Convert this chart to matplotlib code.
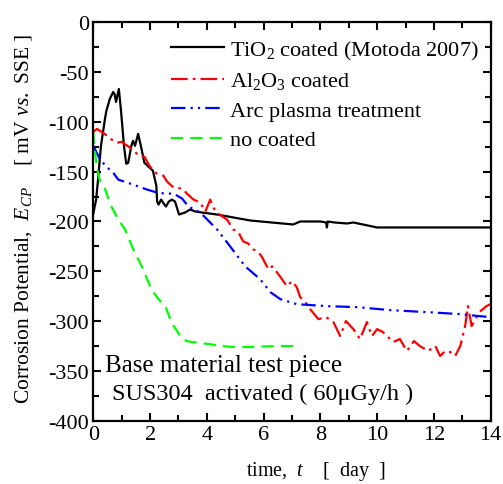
import numpy as np
import matplotlib
matplotlib.use("Agg")
import matplotlib.pyplot as plt
from matplotlib.ticker import MultipleLocator

plt.rcParams['font.family'] = ['Liberation Serif', 'DejaVu Serif']
plt.rcParams['mathtext.fontset'] = 'custom'
plt.rcParams['mathtext.rm'] = 'Liberation Serif'
plt.rcParams['mathtext.it'] = 'Liberation Serif:italic'
plt.rcParams['axes.unicode_minus'] = False

# TiO2 coated (Motoda 2007)
t_tio2 = [0, 0.1, 0.17, 0.27, 0.41, 0.46, 0.58, 0.7, 0.75, 0.8, 0.9, 0.98, 1.08, 1.16, 1.23,
          1.34, 1.4, 1.47, 1.58, 1.69, 1.8, 2.1, 2.22, 2.25, 2.3, 2.39, 2.48, 2.56, 2.66, 2.77,
          2.88, 3.02, 3.23, 3.41, 3.6, 3.83, 4.36, 5.53, 7.04, 7.29, 8.0, 8.2, 8.23, 8.26, 8.5,
          8.94, 9.16, 9.5, 10.0, 14.0]
e_tio2 = [-192, -178, -157, -124, -97, -89, -77, -70, -72, -80, -67, -90, -124, -142, -141,
          -124, -119, -124, -112, -126, -141, -149, -164, -180, -183, -178, -182, -185, -180, -178,
          -180, -193, -191, -188, -190, -191, -193, -199, -203, -200, -200, -201, -206, -200, -201,
          -202, -201, -203, -206, -206]

# Al2O3 coated
t_al2o3 = [0, 0.13, 0.4, 0.6, 0.84, 1.0, 1.2, 1.4, 1.6, 1.8, 2.0, 2.24, 2.47, 2.6, 2.83, 3.13,
           3.3, 3.53, 3.77, 3.95, 4.12, 4.2, 4.36, 4.55, 4.71, 4.93, 5.1, 5.28, 5.45, 5.64, 5.8,
           5.95, 6.17, 6.3, 6.47, 6.65, 6.82, 7.0, 7.17, 7.29, 7.45, 7.64, 7.93, 8.2, 8.46, 8.7,
           8.9, 9.16, 9.4, 9.64, 9.82, 10.0, 10.2, 10.57, 10.8, 11.05, 11.3, 11.5, 11.8, 12.05,
           12.22, 12.4, 12.57, 12.75, 12.93, 13.1, 13.2, 13.33, 13.6, 13.85, 14.0]
e_al2o3 = [-110, -107, -112, -117, -121, -120, -124, -128, -134, -135, -145, -152, -154, -160,
           -166, -167, -172, -178, -181, -190, -178, -185, -191, -195, -198, -208, -210, -220,
           -222, -228, -230, -236, -248, -245, -251, -258, -265, -260, -266, -276, -280, -288,
           -298, -296, -301, -315, -300, -308, -318, -301, -315, -308, -311, -321, -318, -330,
           -320, -325, -330, -325, -335, -330, -331, -335, -325, -305, -285, -305, -291, -285, -283]

# Arc plasma treatment
t_arc = [0, 0.24, 0.5, 0.7, 0.88, 1.41, 1.9, 2.25, 2.54, 2.83, 3.13, 3.35, 3.77, 4.36, 4.82,
         5.35, 5.88, 6.24, 6.59, 7.17, 8.23, 9.3, 10.46, 11.76, 12.93, 13.6, 14.0]
e_arc = [-124, -138, -146, -151, -158, -163, -168, -171, -172, -172, -177, -185, -191, -208, -225,
         -245, -258, -271, -278, -283, -285, -286, -289, -291, -293, -295, -296]

# no coated
t_none = [0, 0.05, 0.13, 0.24, 0.41, 0.62, 0.88, 1.12, 1.41, 1.76, 2.04, 2.3, 2.54, 2.75, 2.95,
          3.13, 3.3, 3.49, 4.05, 4.5, 4.93, 5.53, 6.5, 7.29]
e_none = [-110, -127, -147, -160, -167, -184, -198, -208, -228, -248, -268, -278, -285, -301, -310,
          -318, -320, -321, -323, -325, -326, -326, -325, -325]

fig = plt.figure(figsize=(5.03, 4.85), dpi=100)
ax = fig.add_axes([0.1855, 0.1305, 0.79, 0.8215])

ax.plot(t_tio2, e_tio2, color='black', lw=1.6, label='TiO$_2$ coated (Motoda 2007)')
ax.plot(t_al2o3, e_al2o3, color='#ff0000', lw=1.6, dashes=(7.5, 2.3, 1.2, 2.3),
        label='Al$_2$O$_3$ coated')
ax.plot(t_arc, e_arc, color='#0000ff', lw=1.6, dashes=(6.5, 2.3, 1, 2.3, 1, 2.3),
        label='Arc plasma treatment')
ax.plot(t_none, e_none, color='#00ff00', lw=1.6, dashes=(5.5, 3.2),
        label='no coated')

ax.set_xlim(0, 14)
ax.set_ylim(-400, 0)
ax.xaxis.set_major_locator(MultipleLocator(2))
ax.xaxis.set_minor_locator(MultipleLocator(1))
ax.yaxis.set_major_locator(MultipleLocator(50))
ax.yaxis.set_minor_locator(MultipleLocator(25))
ax.tick_params(which='both', direction='in', top=True, right=True, width=1.5, labelsize=16)
ax.tick_params(which='major', length=6, pad=3)
ax.tick_params(which='minor', length=4)
for s in ax.spines.values():
    s.set_linewidth(1.6)

ax.set_xlabel('time,  $t$    [  day  ]', fontsize=14.5)
ax.xaxis.set_label_coords(0.56, -0.095)
ax.set_ylabel('Corrosion Potential,  $E_{CP}$    [ mV $vs.$ SSE ]', fontsize=15.5)
ax.yaxis.set_label_coords(-0.15, 0.51)

ax.legend(loc='upper right', frameon=False, fontsize=16, handlelength=2.4,
          handletextpad=0.25, labelspacing=0.4, borderaxespad=0.15,
          bbox_to_anchor=(1.0, 0.99))

ax.text(0.03, 0.125, 'Base material test piece', transform=ax.transAxes, fontsize=18)
ax.text(0.046, 0.055, 'SUS304  activated ( 60μGy/h )', transform=ax.transAxes, fontsize=17.5)

fig.savefig('out.png', dpi=100)
